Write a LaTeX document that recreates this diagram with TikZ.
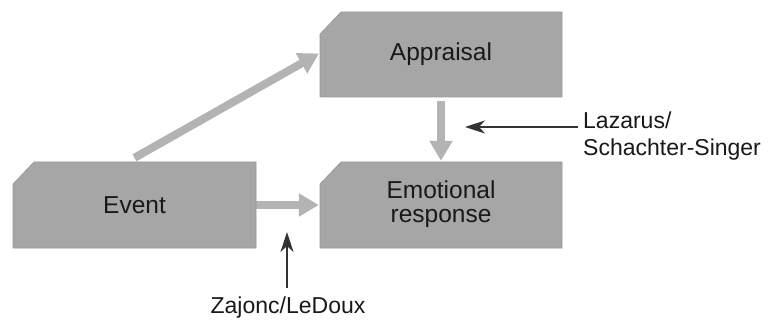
\documentclass[tikz,border=0pt]{standalone}
\usepackage{fontspec}
\setmainfont{Liberation Sans}
\usetikzlibrary{arrows.meta}
\definecolor{boxgray}{HTML}{A6A6A6}
\definecolor{boxedge}{HTML}{999999}
\definecolor{arrgray}{HTML}{B3B3B3}
\tikzset{
  boxtext/.style={font=\fontsize{24.5}{24.5}\selectfont, text=black!90, align=center, inner sep=0pt},
  labeltext/.style={font=\fontsize{23}{27.5}\selectfont, text=black!90, align=left, inner sep=0pt},
  bigarrow/.style={draw=arrgray, line width=8pt, -{Triangle[width=22pt,length=20pt,fill=arrgray]}},
  thinarrow/.style={draw=black!80, line width=1.6pt, -{Stealth[width=13pt,length=20pt,inset=6pt]}},
  chamfer/.style={fill=boxgray, draw=boxedge, line width=0.6pt}
}
\newcommand{\chambox}[5]{%
  % #1 name, #2 x1, #3 y1, #4 x2, #5 y2
  \fill[chamfer] (#2+21,#3) -- (#4,#3) -- (#4,#5) -- (#2,#5) -- (#2,#3+22) -- cycle;
}
\begin{document}
\begin{tikzpicture}[x=1pt,y=-1pt]
\useasboundingbox[fill=white] (0,0) rectangle (778,320);
% invisible anchor nodes for the boxes
\node[minimum width=243pt, minimum height=86pt, inner sep=0pt] (event) at (134.5,205) {};
\node[minimum width=242pt, minimum height=85pt, inner sep=0pt] (appr) at (441,54.5) {};
\node[minimum width=242pt, minimum height=86pt, inner sep=0pt] (emo) at (441,205) {};
% big grey arrows (drawn first)
\draw[bigarrow, shorten >=1pt] ([yshift=4pt]event.north) -- ([yshift=1.5pt]appr.west);
\draw[bigarrow, shorten >=1pt] ([xshift=-4pt]event.east) -- (emo.west);
\draw[bigarrow, shorten >=1pt] ([yshift=-4pt]appr.south) -- (emo.north);
% boxes
\chambox{event}{13}{162}{256}{248}
\chambox{appr}{320}{12}{562}{97}
\chambox{emo}{320}{162}{562}{248}
\node[boxtext] at (event.center) {Event};
\node[boxtext] at (appr.center) {Appraisal};
\node[boxtext] at ([yshift=1pt]emo.center) {Emotional\\response};
% labels
\node[labeltext, anchor=west] (laz) at (583,136) {Lazarus/\\Schachter-Singer};
\coordinate (lzt) at (578,127);
\coordinate (lzh) at (465,127);
\draw[thinarrow] (lzt) -- (lzh);
\node[labeltext, anchor=base] (zaj) at (288,313) {Zajonc/LeDoux};
\coordinate (zt) at (287,288);
\coordinate (zh) at (287,232);
\draw[thinarrow] (zt) -- (zh);
\end{tikzpicture}
\end{document}
